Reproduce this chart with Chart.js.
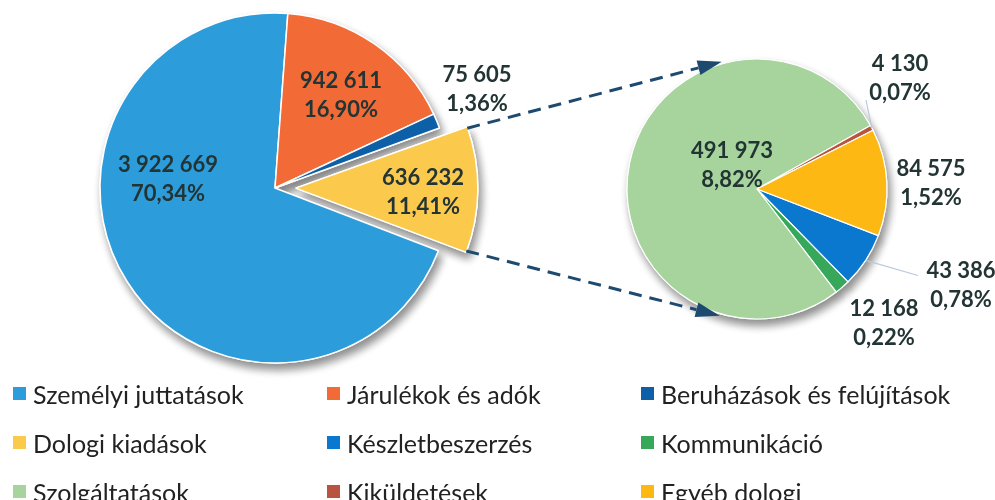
<!DOCTYPE html>
<html>
<head>
<meta charset="utf-8">
<script src="https://cdn.jsdelivr.net/npm/chart.js@4.4.1/dist/chart.umd.min.js"></script>
<style>
    html, body { margin: 0; padding: 0; background: #fff; }
    #wrap { position: relative; width: 995px; height: 500px; overflow: hidden; }
    #wrap canvas { position: absolute; left: 0; top: 0; }
    #legend {
        position: absolute; left: 13px; top: 369px;
        display: grid; grid-template-columns: 314px 314px auto; grid-auto-rows: 49px;
        font-family: Lato, sans-serif; font-size: 25px; color: #222;
    }
    #legend .item { display: flex; align-items: center; white-space: nowrap; }
    #legend .box { width: 13px; height: 13px; margin-right: 7px; flex: none; }
</style>
</head>
<body>
<div id="wrap">
    <canvas id="leftPie" width="995" height="380"></canvas>
    <canvas id="rightPie" width="995" height="380"></canvas>
    <div id="legend"></div>
</div>
<script>
    // main budget split
    const leftLabels = ['Személyi juttatások', 'Járulékok és adók', 'Beruházások és felújítások', 'Dologi kiadások'];
    const leftValues = [3922669, 942611, 75605, 636232];
    const leftColors = ['#2d9cdb', '#f26a35', '#0d5fa8', '#fbc94c'];

    // breakdown of "Dologi kiadások"
    const rightLabels = ['Készletbeszerzés', 'Kommunikáció', 'Szolgáltatások', 'Kiküldetések', 'Egyéb dologi'];
    const rightValues = [43386, 12168, 491973, 4130, 84575];
    const rightColors = ['#0b78d0', '#37a85a', '#a6d49c', '#b85440', '#fdb813'];

    const grandTotal = leftValues.reduce((a, b) => a + b, 0);

    function fmtNum(v) {
        return String(v).replace(/\B(?=(\d{3})+(?!\d))/g, ' ');
    }

    function fmtPct(v) {
        return (v / grandTotal * 100).toFixed(2).replace('.', ',') + '%';
    }

    // soft drop shadow drawn under the arcs
    const pieShadow = {
        id: 'pieShadow',
        beforeDatasetsDraw(chart) {
            const ctx = chart.ctx;
            ctx.save();
            ctx.shadowColor = 'rgba(0,0,0,0.45)';
            ctx.shadowBlur = 9;
            ctx.shadowOffsetX = 3;
            ctx.shadowOffsetY = 6;
            chart.getDatasetMeta(0).data.forEach(arc => arc.draw(ctx));
            ctx.restore();
        }
    };

    const valueLabels = {
        id: 'valueLabels',
        afterDatasetsDraw(chart, args, opts) {
            const ctx = chart.ctx;
            const arcs = chart.getDatasetMeta(0).data;
            const values = chart.data.datasets[0].data;
            ctx.save();

            // leader lines
            ctx.strokeStyle = '#b9c9da';
            ctx.lineWidth = 1.2;
            Object.keys(opts.leaders || {}).forEach(k => {
                const arc = arcs[k];
                const mid = (arc.startAngle + arc.endAngle) / 2;
                const [lx, ly] = opts.offsets[k];
                const [ax, ay] = opts.leaders[k];
                ctx.beginPath();
                ctx.moveTo(arc.x + Math.cos(mid) * arc.outerRadius, arc.y + Math.sin(mid) * arc.outerRadius);
                ctx.lineTo(arc.x + lx + ax, arc.y + ly + ay);
                ctx.stroke();
            });

            ctx.font = 'bold 22px Lato';
            ctx.fillStyle = '#223434';
            ctx.textAlign = 'center';
            ctx.textBaseline = 'middle';
            arcs.forEach((arc, i) => {
                const [dx, dy] = opts.offsets[i];
                ctx.fillText(fmtNum(values[i]), arc.x + dx, arc.y + dy - 14.5);
                ctx.fillText(fmtPct(values[i]), arc.x + dx, arc.y + dy + 14.5);
            });
            ctx.restore();
        }
    };

    function pieOptions(radius, rotation, padding, offsets, leaders) {
        return {
            responsive: false,
            animation: false,
            events: [],
            radius: radius,
            rotation: rotation,
            layout: { padding: padding },
            plugins: {
                legend: { display: false },
                tooltip: { enabled: false },
                valueLabels: { offsets: offsets, leaders: leaders }
            }
        };
    }

    const leftChart = new Chart(document.getElementById('leftPie'), {
        type: 'pie',
        data: {
            labels: leftLabels,
            datasets: [{
                data: leftValues,
                backgroundColor: leftColors,
                borderColor: '#ffffff',
                borderWidth: 1.5,
                offset: [0, 0, 0, 83],
                clip: false
            }]
        },
        options: pieOptions(175, 111, { left: 0, top: 0, right: 445, bottom: 4 },
            [[-107, -9], [66, -93], [202, -99], [148, 4]]),
        plugins: [pieShadow, valueLabels]
    });

    // dashed arrows from the exploded slice to the breakdown pie
    const connector = {
        id: 'connector',
        afterDraw(chart) {
            const ctx = chart.ctx;
            const src = leftChart.getDatasetMeta(0).data[3];
            const dst = chart.getDatasetMeta(0).data[0];
            const half = (src.startAngle + src.endAngle) / 2;
            const off = (src.options.offset || 0) / 4;
            const shift = off * (1 + 1 - Math.sin(Math.min(Math.PI, src.circumference)));
            const ox = src.x + Math.cos(half) * shift;
            const oy = src.y + Math.sin(half) * shift;
            const R = src.outerRadius;
            const starts = [
                [ox + Math.cos(src.startAngle) * R, oy + Math.sin(src.startAngle) * R],
                [ox + Math.cos(src.endAngle) * R, oy + Math.sin(src.endAngle) * R]
            ];
            const targetAngles = [-105.5, 106.4].map(d => d * Math.PI / 180);
            const rr = dst.outerRadius + 2;
            ctx.save();
            ctx.strokeStyle = '#1f4a70';
            ctx.fillStyle = '#1f4a70';
            ctx.lineWidth = 3;
            starts.forEach((s, i) => {
                const tx = dst.x + Math.cos(targetAngles[i]) * rr;
                const ty = dst.y + Math.sin(targetAngles[i]) * rr;
                const ang = Math.atan2(ty - s[1], tx - s[0]);
                const len = 24, hw = 7.5;
                const bx = tx - Math.cos(ang) * len;
                const by = ty - Math.sin(ang) * len;
                ctx.setLineDash([13, 8]);
                ctx.beginPath();
                ctx.moveTo(s[0], s[1]);
                ctx.lineTo(bx, by);
                ctx.stroke();
                ctx.setLineDash([]);
                ctx.beginPath();
                ctx.moveTo(tx, ty);
                ctx.lineTo(bx + Math.sin(ang) * hw, by - Math.cos(ang) * hw);
                ctx.lineTo(bx - Math.sin(ang) * hw, by + Math.cos(ang) * hw);
                ctx.closePath();
                ctx.fill();
            });
            ctx.restore();
        }
    };

    new Chart(document.getElementById('rightPie'), {
        type: 'pie',
        data: {
            labels: rightLabels,
            datasets: [{
                data: rightValues,
                backgroundColor: rightColors,
                borderColor: '#ffffff',
                borderWidth: 1.2,
                clip: false
            }]
        },
        options: pieOptions(130, 111, { left: 519, top: 0, right: 0, bottom: 2 },
            [[204, 96.5], [127, 134], [-25, -24], [143, -111], [174, -5.5]],
            { 0: [-43, -10], 3: [-34, 22] }),
        plugins: [pieShadow, valueLabels, connector]
    });

    // html legend, same order as the source figure
    const legend = document.getElementById('legend');
    leftLabels.concat(rightLabels).forEach((label, i) => {
        const color = leftColors.concat(rightColors)[i];
        const item = document.createElement('div');
        item.className = 'item';
        item.innerHTML = `<span class="box" style="background:${color}"></span><span>${label}</span>`;
        legend.appendChild(item);
    });
</script>
</body>
</html>
